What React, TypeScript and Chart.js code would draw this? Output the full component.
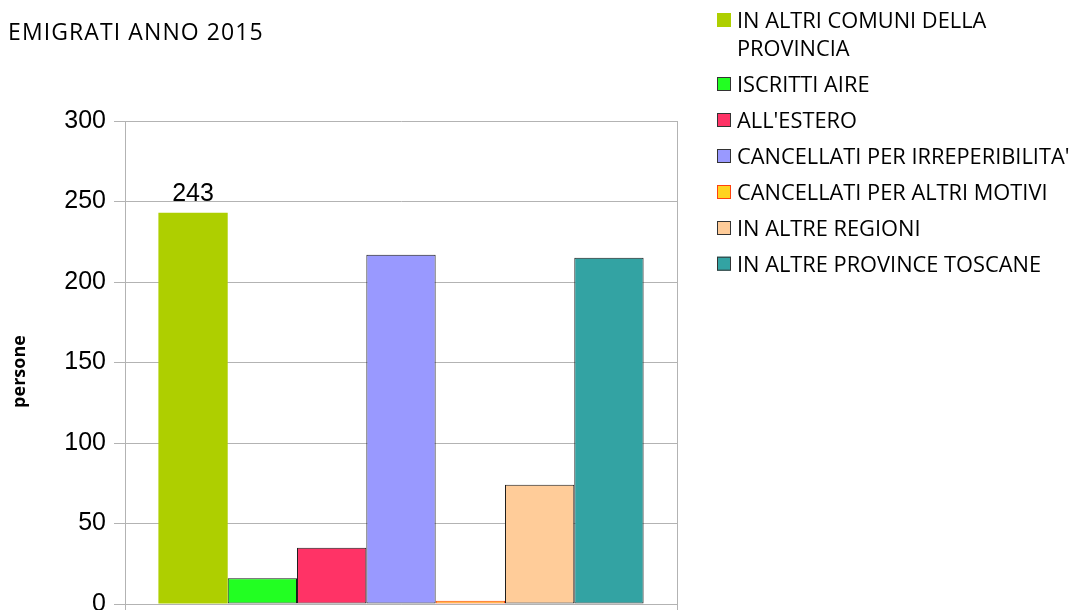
import React, { useEffect, useRef } from "react";
import { Chart, registerables } from "chart.js";

Chart.register(...registerables);

const chartTitle = "EMIGRATI ANNO 2015";
const yAxisTitle = "persone";
const categories = [""];
const seriesNames = [
  "IN ALTRI COMUNI DELLA PROVINCIA",
  "ISCRITTI AIRE",
  "ALL'ESTERO",
  "CANCELLATI PER IRREPERIBILITA'",
  "CANCELLATI PER ALTRI MOTIVI",
  "IN ALTRE REGIONI",
  "IN ALTRE PROVINCE TOSCANE",
];
const legendLines = [
  ["IN ALTRI COMUNI DELLA", "PROVINCIA"],
  ["ISCRITTI AIRE"],
  ["ALL'ESTERO"],
  ["CANCELLATI PER IRREPERIBILITA'"],
  ["CANCELLATI PER ALTRI MOTIVI"],
  ["IN ALTRE REGIONI"],
  ["IN ALTRE PROVINCE TOSCANE"],
];
const seriesValues = [243, 16, 35, 217, 2, 74, 215];
const showValueLabel = [true, false, false, false, false, false, false];
const seriesColors = ["#aecf00", "#22ff22", "#ff3366", "#9999ff", "#ffd320", "#ffcc99", "#33a3a3"];
const seriesBorders = ["#aecf00", "#1a1a1a", "#1a1a1a", "#1a1a1a", "#ff420e", "#1a1a1a", "#1a1a1a"];
const seriesBorderWidths = [0, 1, 1, 1, 1, 1, 1];
const yMin = 0;
const yMax = 300;
const yStep = 50;

const extrasPlugin = {
  id: "extras",
  afterDraw(chart: any) {
    const ctx = chart.ctx;
    ctx.save();
    // title
    ctx.fillStyle = "#000";
    ctx.textAlign = "left";
    ctx.textBaseline = "alphabetic";
    ctx.font = '23px "Open Sans"';
    try { (ctx as any).letterSpacing = "1.1px"; } catch (e) {}
    ctx.fillText(chartTitle, 8, 39.5);
    try { (ctx as any).letterSpacing = "0px"; } catch (e) {}

    // legend
    ctx.font = '21.8px "Open Sans"';
    const baselines = [28.3, 92.3, 128.3, 164.3, 200.3, 236.3, 272];
    legendLines.forEach((lines, i) => {
      const b = baselines[i];
      ctx.fillStyle = seriesColors[i];
      ctx.fillRect(717, b - 15.3, 14, 14);
      if (seriesBorderWidths[i] > 0) {
        ctx.strokeStyle = seriesBorders[i] === "#1a1a1a" ? "#333" : seriesBorders[i];
        ctx.lineWidth = 1;
        ctx.strokeRect(717.5, b - 14.8, 13, 13);
      }
      ctx.fillStyle = "#000";
      lines.forEach((ln, j) => {
        ctx.fillText(ln, 737, b + j * 27.4);
      });
    });

    // y axis title
    ctx.save();
    ctx.translate(25, 371.5);
    ctx.rotate(-Math.PI / 2);
    ctx.font = 'bold 18px "Open Sans"';
    ctx.textAlign = "center";
    ctx.textBaseline = "alphabetic";
    ctx.fillStyle = "#000";
    ctx.fillText(yAxisTitle, 0, 0);
    ctx.restore();

    // value labels
    ctx.font = '25px "Liberation Sans"';
    ctx.textAlign = "center";
    ctx.textBaseline = "alphabetic";
    ctx.fillStyle = "#000";
    seriesValues.forEach((v, i) => {
      if (!showValueLabel[i]) return;
      const el = chart.getDatasetMeta(i).data[0];
      ctx.fillText(String(v), el.x, el.y - 12);
    });
    ctx.restore();
  },
};

export default function App() {
  const ref = useRef<HTMLCanvasElement>(null);
  useEffect(() => {
    if (!ref.current) return;
    const chart = new Chart(ref.current, {
      type: "bar",
      data: {
        labels: categories,
        datasets: seriesNames.map((name, i) => ({
          label: name,
          data: [seriesValues[i]],
          backgroundColor: seriesColors[i],
          borderColor: seriesBorders[i],
          borderWidth: seriesBorderWidths[i],
          borderSkipped: false,
          barPercentage: 1,
          categoryPercentage: 0.879,
        })),
      },
      options: {
        animation: false,
        responsive: false,
        devicePixelRatio: 1,
        layout: { padding: { left: 0, top: 121, right: 401, bottom: 18 } },
        plugins: {
          legend: { display: false },
          title: { display: false },
          tooltip: { enabled: false },
        },
        scales: {
          x: {
            ticks: { display: false },
            grid: { color: "#b3b3b3", tickLength: 8, offset: true },
            border: { color: "#b3b3b3" },
            afterFit: (s: any) => { s.height = 8; },
          },
          y: {
            min: yMin,
            max: yMax,
            ticks: {
              stepSize: yStep,
              color: "#000",
              padding: 8,
              font: { family: '"Liberation Sans"', size: 25 },
            },
            grid: { color: "#b3b3b3", tickLength: 11 },
            border: { color: "#b3b3b3" },
            afterFit: (s: any) => { s.width = 125; },
          },
        },
      },
      plugins: [extrasPlugin],
    });
    return () => chart.destroy();
  }, []);
  return (
    <div style={{ position: "absolute", left: 0, top: 0, width: 1078, height: 610, overflow: "hidden", background: "#fff" }}>
      <canvas ref={ref} width={1078} height={630} style={{ width: 1078, height: 630, display: "block" }} />
    </div>
  );
}
